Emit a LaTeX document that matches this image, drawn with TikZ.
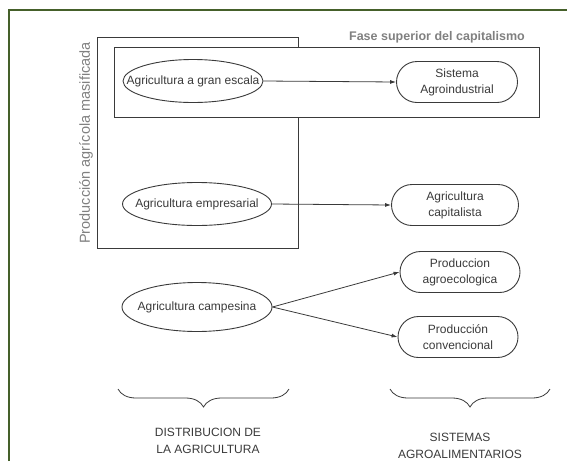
\documentclass[tikz,border=0pt]{standalone}
\usepackage{fontspec}
\setmainfont{Liberation Sans}
\usetikzlibrary{shapes.geometric,shapes.misc,arrows.meta,decorations.pathreplacing}
\definecolor{framegreen}{HTML}{45602A}
\definecolor{ink}{HTML}{3A3A3A}
\begin{document}
\begin{tikzpicture}[x=1pt,y=-1pt,
		every node/.style={font=\fontsize{12}{16}\selectfont,text=ink},
		oval/.style={draw=ink,line width=0.9pt,ellipse,inner sep=0pt},
		pill/.style={draw=ink,line width=0.9pt,rounded rectangle,minimum width=120pt,minimum height=41pt,align=center,inner sep=0pt},
		link/.style={draw=ink,line width=0.8pt,-{Latex[length=6pt,width=4pt]}},
		curly/.style={draw=ink,line width=0.8pt,decorate,decoration={brace,mirror,amplitude=18pt}}]
		\useasboundingbox (0,0) rectangle (567,461);
		\draw [framegreen,line width=2pt] (9,461) -- (9,10) -- (567,10);
		% grouping boxes
		\coordinate (M1) at (97,37);
		\coordinate (M2) at (298,248);
		\coordinate (F1) at (114,47);
		\coordinate (F2) at (539,117);
		\draw [ink,line width=0.9pt] (M1) rectangle (M2);
		\draw [ink,fill=white,line width=0.9pt] (F1) rectangle (F2);
		\node [rotate=90,text=gray,font=\fontsize{14.5}{17}\selectfont] (masa) at (86,143) {Producción agrícola masificada};
		\node [text=gray,font=\fontsize{12.5}{15}\bfseries] (fase) at (437,37) {Fase superior del capitalismo};
		% left column
		\node [oval,minimum width=140pt,minimum height=43pt] (gran) at (193,81) {\makebox[0pt]{Agricultura a gran escala}};
		\node [oval,minimum width=149pt,minimum height=43pt] (empr) at (197,204) {\makebox[0pt]{Agricultura empresarial}};
		\node [oval,minimum width=150pt,minimum height=49pt] (camp) at (197,307) {\makebox[0pt]{Agricultura campesina}};
		% right column
		\node [pill,minimum width=121pt] (sist) at (457,82) {Sistema\\Agroindustrial};
		\node [pill,minimum width=127pt] (capi) at (455,205) {Agricultura\\capitalista};
		\node [pill] (agro) at (460,272) {Produccion\\agroecologica};
		\node [pill] (conv) at (458,337) {Producción\\convencional};
		\draw [link] (gran.east) -- (sist.west);
		\draw [link] (empr.east) -- (capi.west);
		\draw [link] (camp.east) -- (agro.west);
		\draw [link] (camp.east) -- (conv.west);
		% braces
		\coordinate (L1) at (118,389);
		\coordinate (L2) at (289,389);
		\coordinate (R1) at (390,389);
		\coordinate (R2) at (550,389);
		\draw [curly] (L1) -- (L2);
		\draw [curly] (R1) -- (R2);
		\node [align=center,font=\fontsize{12}{17}\selectfont] (distrib) at (208,441) {DISTRIBUCION DE\\LA AGRICULTURA};
		\node [align=center,font=\fontsize{12}{17}\selectfont] (sistemas) at (460,446) {SISTEMAS\\AGROALIMENTARIOS};
	\end{tikzpicture}
\end{document}
